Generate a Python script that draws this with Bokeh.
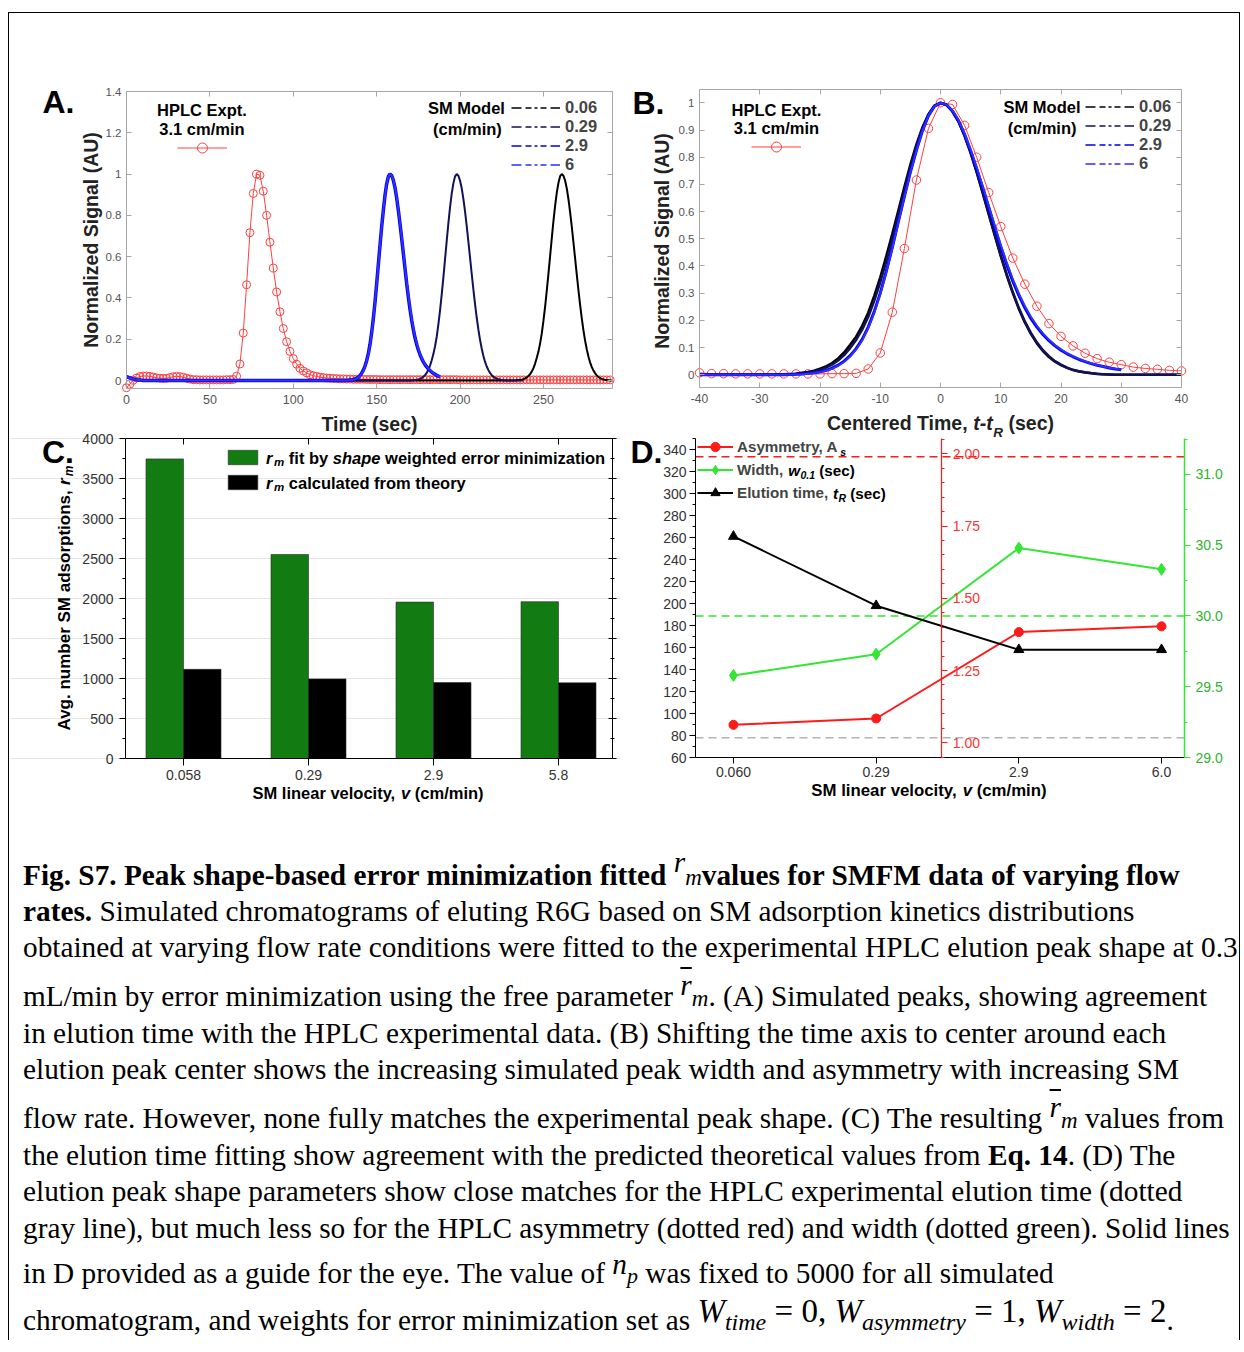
import math
from bokeh.plotting import figure
from bokeh.models import (Range1d, LinearAxis, FixedTicker, Label, Legend, LegendItem,
                          ColumnDataSource, Div, Grid)
from bokeh.layouts import row, column
from bokeh.core.properties import value
from bokeh.transform import dodge
from bokeh.embed import file_html
from bokeh.resources import INLINE

SANS = "Liberation Sans"
NAN = float("nan")

# ------------------------------------------------------------------ data
# HPLC experiment (3.1 cm/min), sampled every 2 s
HPLC_T = list(range(0, 291, 2))
HPLC_Y = [
    -0.035, -0.018, 0.002, 0.012, 0.019, 0.022, 0.022, 0.020, 0.017, 0.013,
    0.011, 0.010, 0.011, 0.014, 0.018, 0.020, 0.019, 0.016, 0.011, 0.007,
    0.004, 0.004, 0.003, 0.003, 0.003, 0.003, 0.003, 0.003, 0.003, 0.003,
    0.004, 0.004, 0.005, 0.021, 0.080, 0.230, 0.464, 0.716, 0.906, 1.000,
    0.994, 0.917, 0.800, 0.670, 0.545, 0.429, 0.333, 0.252, 0.188, 0.141,
    0.106, 0.079, 0.059, 0.046, 0.037, 0.028, 0.023, 0.020, 0.016, 0.014,
    0.012, 0.011, 0.010, 0.009, 0.008, 0.008, 0.007, 0.007, 0.006, 0.006,
    0.006, 0.006, 0.005, 0.005, 0.005, 0.005,
] + [0.004] * 24 + [0.003] * 46
HPLC_TR = 78        # s  (gray dashed line in D)
HPLC_ASYM = 1.99    # red dashed line in D
HPLC_WIDTH = 30.0   # s  (green dashed line in D)

# SM model peaks, centered time t - tR in 1 s steps starting at MODEL_START
MODEL_NAMES = ["0.06", "0.29", "2.9", "6"]
MODEL_START = [-160, -160, -158, -158]
M006 = [0.0] * 133 + [
    0.001, 0.002, 0.003, 0.004, 0.007, 0.010, 0.015, 0.022, 0.031, 0.043,
    0.060, 0.082, 0.110, 0.140, 0.180, 0.228, 0.290, 0.358, 0.436, 0.518,
    0.604, 0.690, 0.773, 0.847, 0.910, 0.958, 0.990, 1.000, 0.992, 0.968,
    0.930, 0.878, 0.815, 0.744, 0.668, 0.590, 0.512, 0.436, 0.365, 0.300,
    0.242, 0.192, 0.150, 0.115, 0.087, 0.065, 0.048, 0.035, 0.025, 0.017,
    0.012, 0.008, 0.005, 0.003, 0.002, 0.001,
] + [0.0] * 12
M029 = [0.0] * 134 + [
    0.001, 0.002, 0.003, 0.005, 0.008, 0.012, 0.018, 0.026, 0.037, 0.052,
    0.072, 0.098, 0.128, 0.166, 0.212, 0.272, 0.340, 0.417, 0.500, 0.588,
    0.676, 0.762, 0.840, 0.905, 0.955, 0.989, 1.000, 0.992, 0.968, 0.931,
    0.880, 0.818, 0.748, 0.672, 0.594, 0.516, 0.440, 0.369, 0.304, 0.246,
    0.196, 0.154, 0.119, 0.090, 0.068, 0.050, 0.037, 0.026, 0.018, 0.013,
    0.009, 0.006, 0.004, 0.002, 0.001,
] + [0.0] * 12
M29 = [0.018, 0.016, 0.013, 0.010, 0.008, 0.006, 0.004, 0.003, 0.002, 0.001] + [0.0] * 123 + [
    0.001, 0.002, 0.003, 0.005, 0.007, 0.011, 0.016, 0.024, 0.035, 0.050,
    0.070, 0.096, 0.130, 0.175, 0.232, 0.300, 0.380, 0.468, 0.563, 0.655,
    0.745, 0.825, 0.897, 0.953, 0.988, 1.000, 0.993, 0.970, 0.934, 0.884,
    0.824, 0.758, 0.688, 0.615, 0.542, 0.470, 0.404, 0.344, 0.292, 0.246,
    0.207, 0.175, 0.148, 0.125, 0.106, 0.090, 0.077, 0.066, 0.056, 0.048,
    0.041, 0.035, 0.030, 0.025, 0.021, 0.018,
]
M6 = [0.017, 0.015, 0.012, 0.010, 0.007, 0.005, 0.004, 0.003, 0.002, 0.001] + [0.0] * 124 + [
    0.001, 0.002, 0.004, 0.006, 0.010, 0.015, 0.022, 0.033, 0.047, 0.067,
    0.093, 0.127, 0.171, 0.228, 0.296, 0.376, 0.465, 0.560, 0.653, 0.743,
    0.824, 0.896, 0.952, 0.988, 1.000, 0.993, 0.971, 0.936, 0.887, 0.828,
    0.763, 0.694, 0.622, 0.549, 0.478, 0.412, 0.352, 0.299, 0.253, 0.213,
    0.180, 0.152, 0.129, 0.109, 0.093, 0.079, 0.068, 0.058, 0.049, 0.042,
    0.036, 0.030, 0.026, 0.022, 0.019,
]
MODEL_Y = [M006, M029, M29, M6]

# Panel C
C_VELOCITY = ["0.058", "0.29", "2.9", "5.8"]
RM_FIT = [3745, 2550, 1955, 1960]
RM_THEORY = [1115, 995, 950, 946]

# Panel D
D_VELOCITY = ["0.060", "0.29", "2.9", "6.0"]
ASYMMETRY = [1.062, 1.084, 1.383, 1.403]
WIDTH01 = [29.58, 29.73, 30.48, 30.33]
ELUTION = [261, 198, 158, 158]   # also the model peak times in A

# ticks
A_XTICKS = [0, 50, 100, 150, 200, 250]
A_XLABELS = ["0", "50", "100", "150", "200", "250"]
A_YTICKS = [0, 0.2, 0.4, 0.6, 0.8, 1.0, 1.2, 1.4]
A_YLABELS = ["0", "0.2", "0.4", "0.6", "0.8", "1", "1.2", "1.4"]
B_XTICKS = [-40, -30, -20, -10, 0, 10, 20, 30, 40]
B_XLABELS = ["-40", "-30", "-20", "-10", "0", "10", "20", "30", "40"]
B_YTICKS = [0, 0.1, 0.2, 0.3, 0.4, 0.5, 0.6, 0.7, 0.8, 0.9, 1.0]
B_YLABELS = ["0", "0.1", "0.2", "0.3", "0.4", "0.5", "0.6", "0.7", "0.8", "0.9", "1"]
C_YTICKS = [0, 500, 1000, 1500, 2000, 2500, 3000, 3500, 4000]
C_YLABELS = ["0", "500", "1000", "1500", "2000", "2500", "3000", "3500", "4000"]
D_YTICKS = [60, 80, 100, 120, 140, 160, 180, 200, 220, 240, 260, 280, 300, 320, 340]
D_YLABELS = ["60", "80", "100", "120", "140", "160", "180", "200", "220", "240", "260",
             "280", "300", "320", "340"]
D_ATICKS = [1.0, 1.25, 1.5, 1.75, 2.0]
D_ALABELS = ["1.00", "1.25", "1.50", "1.75", "2.00"]
D_WTICKS = [29.0, 29.5, 30.0, 30.5, 31.0]
D_WLABELS = ["29.0", "29.5", "30.0", "30.5", "31.0"]

# ------------------------------------------------------------------ axis ranges of the plot boxes
A_X, A_Y = (0, 291.4), (-0.0387, 1.4)
B_X, B_Y = (-40, 40), (-0.047, 1.049)
C_X, C_Y = (-0.464, 3.432), (0, 4000)
D_X, D_Y = (-0.266, 3.161), (60, 350)
D_ASYM, D_WID = (0.949, 2.053), (29.0, 31.254)
D_RED_AXIS_AT = 1.46

# ------------------------------------------------------------------ styles
MODEL_COLORS = ["#000000", "#121258", "#0000e6", "#2e2eff"]
LEGEND_DASH = "10 4 6 3 3 3 6 4 10 60"
RED = "#ff4040"
GRAY = "#a6a6a6"
GREEN_BAR = "#127c12"
D_RED = "#ff1a1a"
D_GREEN = "#33e633"
D_GREEN_TXT = "#2fb32f"

_W = {" ": 278, "!": 333, "(": 333, ")": 333, ",": 278, "-": 333, ".": 278, "/": 278,
      "A": 722, "B": 722, "C": 722, "D": 722, "E": 667, "F": 611, "G": 778, "H": 722,
      "I": 278, "J": 556, "K": 722, "L": 611, "M": 833, "N": 722, "O": 778, "P": 667,
      "Q": 778, "R": 722, "S": 667, "T": 611, "U": 722, "V": 667, "W": 944, "X": 667,
      "Y": 667, "Z": 611, "a": 556, "b": 611, "c": 556, "d": 611, "e": 556, "f": 333,
      "g": 611, "h": 611, "i": 278, "j": 278, "k": 556, "l": 278, "m": 889, "n": 611,
      "o": 611, "p": 611, "q": 611, "r": 389, "s": 556, "t": 333, "u": 611, "v": 556,
      "w": 778, "x": 556, "y": 556, "z": 500}

GEOM = {}


def tw(s, size):
    return sum(_W.get(ch, 556) for ch in s) * size / 1000.0


def lab(p, x, y, text, size, bold=True, italic=False, align="left", baseline="middle",
        color="black", angle=0.0):
    style = "bold italic" if (bold and italic) else ("bold" if bold else ("italic" if italic else "normal"))
    p.add_layout(Label(x=x, y=y, x_units="canvas", y_units="canvas", text=text, text_font=SANS,
                       text_font_size=f"{size}px", text_font_style=style, text_color=color,
                       text_align=align, text_baseline=baseline, angle=angle))


def run(p, x, y, segs, center=False, angle=0.0, color="black"):
    widths = [tw(t, s) + dx for (t, s, it, dy, dx) in segs]
    pos = -sum(widths) / 2.0 if center else 0.0
    for (t, s, it, dy, dx), w in zip(segs, widths):
        lead = tw(t[:len(t) - len(t.lstrip())], s)
        off = pos + dx + lead
        if angle == 0:
            lx, ly = x + off, y + dy
        else:
            lx, ly = x + dy, y - off
        lab(p, lx, ly, t.strip(), s, italic=it, color=color, angle=angle)
        pos += w


def _ext(r, a, b, n):
    s = (r[1] - r[0]) / (b - a)
    return (r[0] - a * s, r[1] + (n - b) * s)


def _exty(r, top, bot, h):
    s = (r[1] - r[0]) / (bot - top)
    return (r[0] - (h - bot) * s, r[1] + top * s)


def box_fig(name, w, h, xr, yr, left, right, top, bottom):
    """Figure whose frame is the whole canvas; the plot box (left..right, top..bottom in
    canvas px) shows xr x yr, drawn with axes at fixed locations."""
    X = _ext(xr, left, right, w)
    Y = _exty(yr, top, bottom, h)
    p = figure(width=w, height=h, x_range=Range1d(*X), y_range=Range1d(*Y),
               output_backend="svg", toolbar_location=None, tools="",
               x_axis_location=None, y_axis_location=None,
               min_border_left=0, min_border_right=0, min_border_top=0, min_border_bottom=0)
    p.outline_line_color = None
    p.grid.visible = False
    GEOM[name] = (left, right, top, bottom, h)
    return p


def extra_range(name, r):
    left, right, top, bottom, h = GEOM[name]
    return Range1d(*_exty(r, top, bottom, h))


def axis(p, side, loc, bounds, ticks, labels=None, minor=None, color="black", tin=0, tout=0,
         mtin=0, mtout=0, size="14px", lcolor="#333333", standoff=5, y_range_name=None, lw=1):
    kw = {}
    if y_range_name:
        kw["y_range_name"] = y_range_name
    ax = LinearAxis(fixed_location=loc, bounds=bounds,
                    ticker=FixedTicker(ticks=ticks, minor_ticks=minor or []),
                    axis_line_color=color, axis_line_width=lw, major_tick_line_color=color,
                    minor_tick_line_color=color if minor else None,
                    major_tick_in=tin, major_tick_out=tout, minor_tick_in=mtin, minor_tick_out=mtout,
                    major_label_standoff=standoff, major_label_text_font=SANS,
                    major_label_text_font_size=size if labels else "0px",
                    major_label_text_color=lcolor,
                    major_label_overrides=dict(zip(ticks, labels if labels else [""] * len(ticks))),
                    **kw)
    p.add_layout(ax, side)
    return ax


def model_legend(p, loc):
    items = []
    for name, col in zip(MODEL_NAMES, MODEL_COLORS):
        l = p.line(x=[NAN], y=[NAN], line_color=col, line_width=1.4, line_dash=LEGEND_DASH)
        items.append(LegendItem(label=name, renderers=[l]))
    leg = Legend(items=items, location=loc, padding=0, margin=0, spacing=0,
                 glyph_width=49, glyph_height=19, label_height=19, label_standoff=5,
                 label_text_font=SANS, label_text_font_size="16.5px", label_text_font_style="bold",
                 border_line_color=None, background_fill_alpha=0)
    p.add_layout(leg)


def hplc_legend(p, renderers, loc, width):
    leg = Legend(items=[LegendItem(label=value(""), renderers=renderers)], location=loc,
                 padding=0, margin=0, spacing=0, glyph_width=width, glyph_height=25,
                 label_height=25, label_width=0, label_standoff=0,
                 border_line_color=None, background_fill_alpha=0)
    p.add_layout(leg)


def matlab_axes(p, X, Y, xt, xl, yt, yl, xsize, ysize):
    axis(p, "below", Y[0], X, xt, xl, color=GRAY, tin=5, size=xsize, lcolor="#555555", standoff=6)
    axis(p, "left", X[0], Y, yt, yl, color=GRAY, tin=5, size=ysize, lcolor="#555555", standoff=5)
    axis(p, "above", Y[1], X, xt, None, color=GRAY, tin=5)
    axis(p, "right", X[1], Y, yt, None, color=GRAY, tin=5)


# ------------------------------------------------------------------ Panel A
pA = box_fig("A", 613, 432, A_X, A_Y, 117, 603, 78, 375)
pA.background_fill_color = "white"
srcA = ColumnDataSource(dict(t=HPLC_T, y=HPLC_Y))
hA_l = pA.line("t", "y", source=srcA, line_color=RED, line_width=1)
hA_c = pA.scatter("t", "y", source=srcA, marker="circle", size=8, fill_color=None,
                  line_color=RED, line_width=1)
for start, vals, tr, col, lw in zip(MODEL_START, MODEL_Y, ELUTION, MODEL_COLORS, [2, 2, 3.5, 2]):
    pts = [(tr + start + k, v) for k, v in enumerate(vals) if A_X[0] <= tr + start + k <= A_X[1]]
    pA.line([q[0] for q in pts], [q[1] for q in pts], line_color=col, line_width=lw)
matlab_axes(pA, A_X, A_Y, A_XTICKS, A_XLABELS, A_YTICKS, A_YLABELS, "12.5px", "11.5px")
lab(pA, 33, 88.5, "A.", 32)
lab(pA, 360, 410.5, "Time (sec)", 19.5, align="center", color="#222222")
lab(pA, 81, 226.5, "Normalized Signal (AU)", 19.5, align="center", angle=math.pi / 2, color="#222222")
lab(pA, 192.4, 96.5, "HPLC Expt.", 16.5, align="center")
lab(pA, 192.4, 115, "3.1 cm/min", 16.5, align="center")
lab(pA, 495.4, 94, "SM Model", 16.5, align="right")
lab(pA, 492.3, 115, "(cm/min)", 16.5, align="right")
hplc_legend(pA, [hA_l, hA_c], (167.5, 285.5), 50)
model_legend(pA, (502, 270.8))

# ------------------------------------------------------------------ Panel B
pB = box_fig("B", 617, 432, B_X, B_Y, 77, 559, 76, 374)
pB.background_fill_color = "white"
b_pts = [(t - HPLC_TR, y) for t, y in zip(HPLC_T, HPLC_Y) if B_X[0] <= t - HPLC_TR <= B_X[1]]
srcB = ColumnDataSource(dict(t=[q[0] for q in b_pts], y=[q[1] for q in b_pts]))
hB_l = pB.line("t", "y", source=srcB, line_color=RED, line_width=1)
hB_c = pB.scatter("t", "y", source=srcB, marker="circle", size=8.5, fill_color=None,
                  line_color=RED, line_width=1)
for start, vals, col, lw in zip(MODEL_START, MODEL_Y, MODEL_COLORS, [2.5, 2.5, 3, 2]):
    pts = [(start + k, v) for k, v in enumerate(vals) if B_X[0] <= start + k <= B_X[1]]
    pB.line([q[0] for q in pts], [q[1] for q in pts], line_color=col, line_width=lw)
matlab_axes(pB, B_X, B_Y, B_XTICKS, B_XLABELS, B_YTICKS, B_YLABELS, "12px", "11.5px")
lab(pB, 10, 89.5, "B.", 32)
lab(pB, 39, 227.5, "Normalized Signal (AU)", 19.5, align="center", angle=math.pi / 2, color="#222222")
lab(pB, 154, 96, "HPLC Expt.", 16.5, align="center")
lab(pB, 154, 114, "3.1 cm/min", 16.5, align="center")
lab(pB, 458, 93, "SM Model", 16.5, align="right")
lab(pB, 454, 114, "(cm/min)", 16.5, align="right")
hplc_legend(pB, [hB_l, hB_c], (129, 285.8), 50)
model_legend(pB, (463, 272.5))
run(pB, 318, 409, [("Centered Time, ", 19.5, False, 0, 0), ("t-t", 19.5, True, 0, 0),
                   ("R", 13.5, True, 9.5, 0.5), (" (sec)", 19.5, False, 0, 0)], center=True,
    color="#222222")

# ------------------------------------------------------------------ Panel C
pC = box_fig("C", 611, 385, C_X, C_Y, 116, 603, 13, 333)
pC.border_fill_color = None
pC.background_fill_color = None
pC.add_layout(Grid(dimension=1, ticker=FixedTicker(ticks=C_YTICKS), bounds=C_X,
                   grid_line_color="#e6e6e6"))
srcC = ColumnDataSource(dict(x=[0, 1, 2, 3], fit=RM_FIT, theory=RM_THEORY))
gb = pC.vbar(x=dodge("x", -0.15), top="fit", width=0.3, source=srcC, fill_color=GREEN_BAR,
             line_color="#2a2a2a", line_width=0.6)
bb = pC.vbar(x=dodge("x", 0.15), top="theory", width=0.3, source=srcC, fill_color="black",
             line_color="#2a2a2a", line_width=0.6)
C_MINOR = [250, 750, 1250, 1750, 2250, 2750, 3250, 3750]
axis(pC, "below", C_Y[0], C_X, [0, 1, 2, 3], C_VELOCITY, tout=7, standoff=4)
axis(pC, "left", C_X[0], C_Y, C_YTICKS, C_YLABELS, minor=C_MINOR, tout=6, mtout=3, standoff=6)
axis(pC, "above", C_Y[1], C_X, [0, 1, 2, 3], None, tin=6)
axis(pC, "right", C_X[1], C_Y, C_YTICKS, None, minor=C_MINOR, tin=4, tout=4, mtin=2, mtout=2)
legC = Legend(items=[LegendItem(label=value(""), renderers=[gb]),
                     LegendItem(label=value(""), renderers=[bb])],
              location=(214.5, 319), padding=0, margin=0, spacing=7, glyph_width=37,
              glyph_height=18, label_height=18, label_width=0, label_standoff=0,
              border_line_color=None, background_fill_alpha=0)
pC.add_layout(legC)
lab(pC, 32.5, 26.5, "C.", 32)
run(pC, 256.6, 32, [("r", 16.5, True, 0, 0), ("m", 11.5, True, 4.5, 1.5),
                    (" fit by ", 16.5, False, 0, 0), ("shape", 16.5, True, 0, 0),
                    (" weighted error minimization", 16.5, False, 0, 0)])
run(pC, 256.6, 57, [("r", 16.5, True, 0, 0), ("m", 11.5, True, 4.5, 1.5),
                    (" calculated from theory", 16.5, False, 0, 0)])
run(pC, 358.5, 367, [("SM linear velocity, ", 16.5, False, 0, 0), ("v", 16.5, True, 0, 0),
                     (" (cm/min)", 16.5, False, 0, 0)], center=True)
run(pC, 54.5, 305, [("Avg. number SM adsorptions, ", 17, False, 0, 0), ("r", 17, True, 0, 0),
                    ("m", 12, True, 5, 2)], angle=math.pi / 2)

# ------------------------------------------------------------------ Panel D
pD = box_fig("D", 619, 385, D_X, D_Y, 75, 564, 13, 332)
pD.border_fill_color = None
pD.background_fill_color = None
pD.extra_y_ranges = {"asym": extra_range("D", D_ASYM), "width": extra_range("D", D_WID)}

pD.segment(x0=[D_X[0]], x1=[D_X[1]], y0=[HPLC_ASYM], y1=[HPLC_ASYM], y_range_name="asym",
           line_color=D_RED, line_dash="8 5", line_width=1.5)
pD.segment(x0=[D_X[0]], x1=[D_X[1]], y0=[HPLC_WIDTH], y1=[HPLC_WIDTH], y_range_name="width",
           line_color=D_GREEN, line_dash="8 5", line_width=1.5)
pD.segment(x0=[D_X[0]], x1=[D_X[1]], y0=[HPLC_TR], y1=[HPLC_TR],
           line_color="#b3b3b3", line_dash="8 5", line_width=1.5)

axis(pD, "below", D_Y[0], D_X, [0, 1, 2, 3], D_VELOCITY, tout=6, standoff=3)
axis(pD, "left", D_X[0], D_Y, D_YTICKS, D_YLABELS,
     minor=[70, 90, 110, 130, 150, 170, 190, 210, 230, 250, 270, 290, 310, 330, 350],
     tout=6, mtout=3, standoff=3)
axis(pD, "right", D_X[1], D_WID, D_WTICKS, D_WLABELS, minor=[29.25, 29.75, 30.25, 30.75, 31.25],
     color=D_GREEN, tout=6, mtout=3, lcolor=D_GREEN_TXT, standoff=5, y_range_name="width", lw=1.5)
axis(pD, "right", D_RED_AXIS_AT, D_ASYM, D_ATICKS, D_ALABELS,
     minor=[round(0.95 + 0.05 * i, 2) for i in range(23)], color=D_RED, tout=6, mtout=3,
     lcolor="#ff3333", standoff=5, y_range_name="asym", lw=1.2)

DX = [0, 1, 2, 3]
r_l = pD.line(DX, ASYMMETRY, y_range_name="asym", line_color=D_RED, line_width=2)
r_s = pD.scatter(DX, ASYMMETRY, y_range_name="asym", marker="circle", size=9, color=D_RED)
g_l = pD.line(DX, WIDTH01, y_range_name="width", line_color=D_GREEN, line_width=2)
g_s = pD.scatter(DX, WIDTH01, y_range_name="width", marker="diamond", size=12, color=D_GREEN)
k_l = pD.line(DX, ELUTION, line_color="black", line_width=2)
k_s = pD.scatter(DX, ELUTION, marker="triangle", size=10, color="black")

legD = Legend(items=[LegendItem(label="Asymmetry, A", renderers=[r_l, r_s]),
                     LegendItem(label="Width, ", renderers=[g_l, g_s]),
                     LegendItem(label="Elution time, ", renderers=[k_l, k_s])],
              location=(77, 305.8), padding=0, margin=0, spacing=0, glyph_width=36,
              glyph_height=23, label_height=23, label_standoff=4,
              label_text_font=SANS, label_text_font_size="15.2px", label_text_font_style="bold",
              border_line_color=None, background_fill_alpha=0)
pD.add_layout(legD)
lab(pD, 10, 26.5, "D.", 32)
run(pD, 117 + tw("Asymmetry, A", 15.2), 21.7, [("s", 10.5, True, 4.5, 0.5)])
run(pD, 117 + tw("Width, ", 15.2), 44.7, [("w", 15.2, True, 0, 0), ("0.1", 10.5, True, 4.5, 0.5),
                                          (" (sec)", 15.2, False, 0, 0)])
run(pD, 117 + tw("Elution time, ", 15.2), 67.7, [("t", 15.2, True, 0, 0), ("R", 10.5, True, 4.5, 0.5),
                                                  (" (sec)", 15.2, False, 0, 0)])
run(pD, 308.5, 364.5, [("SM linear velocity, ", 16.8, False, 0, 0), ("v", 16.8, True, 0, 0),
                       (" (cm/min)", 16.8, False, 0, 0)], center=True)

# ------------------------------------------------------------------ caption
R_M = ('<span style="font-style:italic;font-weight:normal;position:relative;top:-13px">r</span>'
       '<span style="font-style:italic;font-weight:normal;font-size:23px">m</span>')
RBAR_M = ('<span style="font-style:italic;position:relative;top:-11px;text-decoration:overline">r</span>'
          '<span style="font-style:italic;font-size:23px">m</span>')
N_P = ('<span style="font-style:italic;position:relative;top:-9px">n</span>'
       '<span style="font-style:italic;font-size:22px">p</span>')
SUB = '<sub style="font-size:24px"><i>{}</i></sub>'
EQ = ('<span style="position:relative;top:-8px;font-size:33px"><i>W</i>' + SUB.format("time")
      + ' = 0, <i>W</i>' + SUB.format("asymmetry") + ' = 1, <i>W</i>' + SUB.format("width")
      + ' = 2</span>.')
CAPTION_LINES = [
    "<b>Fig. S7. Peak shape-based error minimization fitted " + R_M + "values for SMFM data of varying flow</b>",
    "<b>rates.</b> Simulated chromatograms of eluting R6G based on SM adsorption kinetics distributions",
    "obtained at varying flow rate conditions were fitted to the experimental HPLC elution peak shape at 0.3",
    "mL/min by error minimization using the free parameter " + RBAR_M + ". (A) Simulated peaks, showing agreement",
    "in elution time with the HPLC experimental data. (B) Shifting the time axis to center around each",
    "elution peak center shows the increasing simulated peak width and asymmetry with increasing SM",
    "flow rate. However, none fully matches the experimental peak shape. (C) The resulting " + RBAR_M + " values from",
    "the elution time fitting show agreement with the predicted theoretical values from <b>Eq. 14</b>. (D) The",
    "elution peak shape parameters show close matches for the HPLC experimental elution time (dotted",
    "gray line), but much less so for the HPLC asymmetry (dotted red) and width (dotted green). Solid lines",
    "in D provided as a guide for the eye. The value of " + N_P + " was fixed to 5000 for all simulated",
    "chromatogram, and weights for error minimization set as " + EQ,
]
CAPTION_CENTERS = [65, 101, 137, 186, 223, 259, 308, 345, 381, 418, 463, 509]
html = ('<div style="position:relative;width:1230px;height:530px;font-family:\'Liberation Serif\',serif;'
        'font-size:29.3px;color:#000;">')
for ln, cyy in zip(CAPTION_LINES, CAPTION_CENTERS):
    html += ('<div style="position:absolute;left:14px;top:%dpx;white-space:nowrap;line-height:36px;">%s</div>'
             % (cyy - 18, ln))
html += "</div>"
cap = Div(text=html, width=1230, height=530, margin=(0, 0, 0, 0))

top_row = row(pA, pB)
bottom_row = row(pC, pD, margin=(-20, 0, 0, 0))
page = column(top_row, bottom_row, cap, margin=(12, 0, 0, 8),
              styles={"border-top": "1px solid #000", "border-left": "1px solid #000",
                      "border-right": "1px solid #000"})

open("out.html", "w").write(file_html(page, INLINE))
